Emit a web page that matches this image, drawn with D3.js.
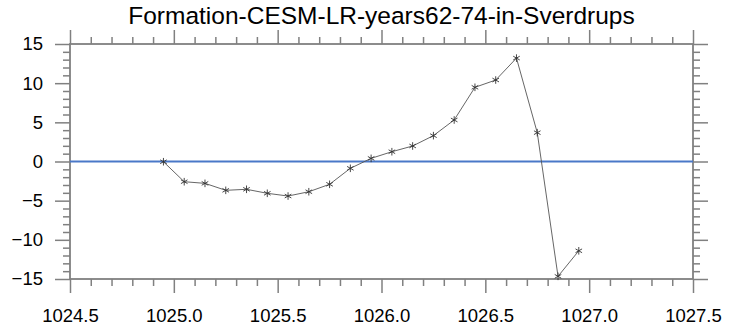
<!DOCTYPE html>
<html>
<head>
<meta charset="utf-8">
<script src="https://cdn.jsdelivr.net/npm/d3@7"></script>
<style>
  body { margin: 0; background: #fff; }
  text { font-family: "Liberation Sans", Arial, sans-serif; }
</style>
</head>
<body>
<div id="app"></div>
<script>
const density = [1024.95, 1025.05, 1025.15, 1025.25, 1025.35, 1025.45, 1025.55, 1025.65, 1025.75, 1025.85,
  1025.95, 1026.05, 1026.15, 1026.25, 1026.35, 1026.45, 1026.55, 1026.65, 1026.75, 1026.85, 1026.95]
const formation = [-0.03, -2.58, -2.79, -3.68, -3.55, -4.06, -4.41, -3.86, -2.91, -0.87,
  0.4, 1.25, 1.98, 3.3, 5.3, 9.47, 10.4, 13.2, 3.68, -14.66, -11.4]
const xTicks = [1024.5, 1025.0, 1025.5, 1026.0, 1026.5, 1027.0, 1027.5]
const yTicks = [-15, -10, -5, 0, 5, 10, 15]
const title = 'Formation-CESM-LR-years62-74-in-Sverdrups'

const width = 746
const height = 328
const margin = {top: 44, right: 53, bottom: 49, left: 70}
const axisColor = '#808080'

const svg = d3.select('#app')
  .append('svg')
  .attr('width', width)
  .attr('height', height)

const x = d3.scaleLinear()
  .domain([1024.5, 1027.5])
  .range([margin.left, width - margin.right])

const y = d3.scaleLinear()
  .domain([-15, 15])
  .range([height - margin.bottom, margin.top])

const xMinor = d3.range(1024.5, 1027.5001, 0.1).filter(v => Math.abs(v * 2 - Math.round(v * 2)) > 1e-6)
const yMinor = d3.range(-15, 15.0001, 1).filter(v => v % 5 !== 0)

// minor ticks
const minor = [
  [d3.axisBottom(x).tickValues(xMinor), height - margin.bottom],
  [d3.axisTop(x).tickValues(xMinor), margin.top]
]
minor.forEach(([ax, pos]) => {
  svg.append('g')
    .attr('transform', `translate(0,${pos})`)
    .call(ax.tickSize(7).tickFormat(''))
})
svg.append('g')
  .attr('transform', `translate(${margin.left},0)`)
  .call(d3.axisLeft(y).tickValues(yMinor).tickSize(7).tickFormat(''))
svg.append('g')
  .attr('transform', `translate(${width - margin.right},0)`)
  .call(d3.axisRight(y).tickValues(yMinor).tickSize(7).tickFormat(''))

// major ticks
svg.append('g')
  .attr('class', 'x-axis')
  .attr('transform', `translate(0,${height - margin.bottom})`)
  .call(d3.axisBottom(x).tickValues(xTicks).tickSize(14).tickPadding(16).tickFormat(d3.format('.1f')))
svg.append('g')
  .attr('transform', `translate(0,${margin.top})`)
  .call(d3.axisTop(x).tickValues(xTicks).tickSize(14).tickFormat(''))
svg.append('g')
  .attr('class', 'y-axis')
  .attr('transform', `translate(${margin.left},0)`)
  .call(d3.axisLeft(y).tickValues(yTicks).tickSize(15).tickPadding(12))
svg.append('g')
  .attr('transform', `translate(${width - margin.right},0)`)
  .call(d3.axisRight(y).tickValues(yTicks).tickSize(15).tickFormat(''))

svg.selectAll('.domain').remove()
svg.selectAll('.tick line').attr('stroke', axisColor).attr('stroke-width', 1.5)
svg.selectAll('.tick text')
  .attr('fill', '#000')
  .style('font-size', '18.5px')

// frame
svg.append('rect')
  .attr('x', margin.left)
  .attr('y', margin.top)
  .attr('width', width - margin.left - margin.right)
  .attr('height', height - margin.top - margin.bottom)
  .attr('fill', 'none')
  .attr('stroke', axisColor)
  .attr('stroke-width', 1.8)

// zero line
svg.append('line')
  .attr('x1', x(1024.5))
  .attr('x2', x(1027.5))
  .attr('y1', y(0))
  .attr('y2', y(0))
  .attr('stroke', '#4a78c8')
  .attr('stroke-width', 2.2)

const pts = density.map((d, i) => [d, formation[i]])

svg.append('path')
  .datum(pts)
  .attr('fill', 'none')
  .attr('stroke', '#555')
  .attr('stroke-width', 0.9)
  .attr('d', d3.line().x(d => x(d[0])).y(d => y(d[1])))

svg.selectAll('.marker')
  .data(pts)
  .join('path')
  .attr('class', 'marker')
  .attr('transform', d => `translate(${x(d[0])},${y(d[1])})`)
  .attr('d', d3.symbol(d3.symbolAsterisk, 40))
  .attr('fill', 'none')
  .attr('stroke', '#333')
  .attr('stroke-width', 0.9)

svg.append('text')
  .attr('x', (margin.left + width - margin.right) / 2)
  .attr('y', 24)
  .attr('text-anchor', 'middle')
  .style('font-size', '24.5px')
  .text(title)
</script>
</body>
</html>
